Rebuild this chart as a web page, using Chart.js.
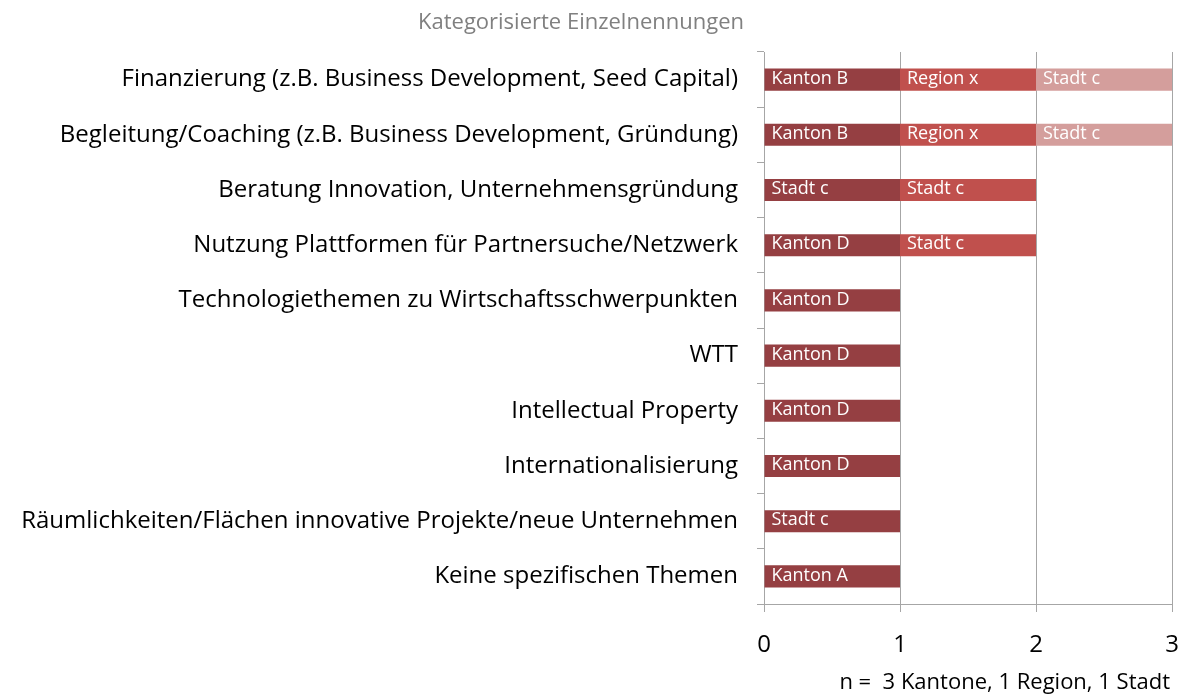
<!DOCTYPE html>
<html>
<head>
<meta charset="utf-8">
<script src="https://cdn.jsdelivr.net/npm/chart.js@4"></script>
<style>
  html, body { margin: 0; padding: 0; background: #fff; }
  #wrap { width: 1184px; height: 695px; }
</style>
</head>
<body>
<div id="wrap"><canvas id="c" width="1184" height="695"></canvas></div>
<script>
// categories top to bottom
const categories = [
  'Finanzierung (z.B. Business Development, Seed Capital)',
  'Begleitung/Coaching (z.B. Business Development, Gründung)',
  'Beratung Innovation, Unternehmensgründung',
  'Nutzung Plattformen für Partnersuche/Netzwerk',
  'Technologiethemen zu Wirtschaftsschwerpunkten',
  'WTT',
  'Intellectual Property',
  'Internationalisierung',
  'Räumlichkeiten/Flächen innovative Projekte/neue Unternehmen',
  'Keine spezifischen Themen'
];
// one value per mention, stacked
const first  = [1, 1, 1, 1, 1, 1, 1, 1, 1, 1];
const second = [1, 1, 1, 1, 0, 0, 0, 0, 0, 0];
const third  = [1, 1, 0, 0, 0, 0, 0, 0, 0, 0];
// who named it
const firstNames  = ['Kanton B', 'Kanton B', 'Stadt c', 'Kanton D', 'Kanton D', 'Kanton D', 'Kanton D', 'Kanton D', 'Stadt c', 'Kanton A'];
const secondNames = ['Region x', 'Region x', 'Stadt c', 'Stadt c', '', '', '', '', '', ''];
const thirdNames  = ['Stadt c', 'Stadt c', '', '', '', '', '', '', '', ''];
const xTicks = [0, 1, 2, 3];

const titleText = 'Kategorisierte Einzelnennungen';
const noteText = 'n =  3 Kantone, 1 Region, 1 Stadt';
const FONT = '"Open Sans", sans-serif';

// writes the names inside each bar piece
const barNames = {
  id: 'barNames',
  afterDatasetsDraw(chart) {
    const ctx = chart.ctx;
    ctx.save();
    ctx.fillStyle = '#fff';
    ctx.font = '18px ' + FONT;
    ctx.textBaseline = 'middle';
    ctx.textAlign = 'left';
    chart.data.datasets.forEach((ds, i) => {
      chart.getDatasetMeta(i).data.forEach((bar, j) => {
        const txt = ds.names[j];
        if (!txt || !ds.data[j]) return;
        const p = bar.getProps(['base', 'y'], true);
        ctx.fillText(txt, p.base + 7, p.y - 1);
      });
    });
    ctx.restore();
  }
};

// title and footnote
const extraText = {
  id: 'extraText',
  afterDraw(chart) {
    const ctx = chart.ctx;
    ctx.save();
    ctx.textBaseline = 'middle';
    ctx.fillStyle = '#808080';
    ctx.font = '22px ' + FONT;
    ctx.textAlign = 'center';
    ctx.fillText(titleText, 581, 23);
    ctx.fillStyle = '#000';
    ctx.textAlign = 'right';
    ctx.fillText(noteText, chart.chartArea.right - 2, 683);
    ctx.restore();
  }
};

new Chart(document.getElementById('c'), {
  type: 'bar',
  data: {
    labels: categories,
    datasets: [
      { data: first,  names: firstNames,  backgroundColor: '#953F42' },
      { data: second, names: secondNames, backgroundColor: '#C0504D' },
      { data: third,  names: thirdNames,  backgroundColor: '#D49E9C' }
    ]
  },
  options: {
    indexAxis: 'y',
    responsive: false,
    animation: false,
    devicePixelRatio: 1,
    layout: { padding: { top: 52, right: 12, left: 0, bottom: 0 } },
    plugins: { legend: { display: false }, tooltip: { enabled: false } },
    datasets: { bar: { categoryPercentage: 1, barPercentage: 0.4 } },
    scales: {
      x: {
        stacked: true,
        min: 0,
        max: 3,
        afterBuildTicks: s => { s.ticks = xTicks.map(v => ({ value: v })); },
        afterFit: s => { s.height = 91; s.paddingLeft = 0; s.paddingRight = 0; },
        grid: { color: '#A6A6A6', lineWidth: 1, tickLength: 8 },
        border: { color: '#A6A6A6' },
        ticks: { color: '#000', font: { family: FONT, size: 24 }, padding: 19 }
      },
      y: {
        stacked: true,
        afterFit: s => { s.width = 764; },
        grid: { drawOnChartArea: false, color: '#A6A6A6', tickLength: 7, offset: true },
        border: { color: '#A6A6A6' },
        ticks: { color: '#000', font: { family: FONT, size: 24 }, padding: 19 }
      }
    }
  },
  plugins: [barNames, extraText]
});
</script>
</body>
</html>
